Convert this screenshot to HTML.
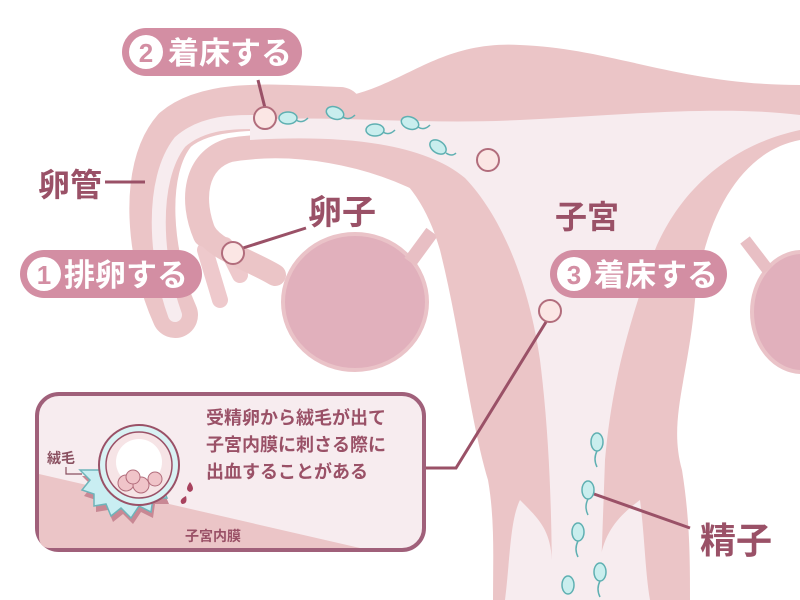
<!DOCTYPE html>
<html><head><meta charset="utf-8"><style>
html,body{margin:0;padding:0;background:#fff;}
svg{display:block;}
text{font-family:"Liberation Sans","Noto Sans CJK JP",sans-serif;font-weight:bold;}
</style></head><body>
<svg width="800" height="600" viewBox="0 0 800 600" xmlns="http://www.w3.org/2000/svg">
<!-- ovaries -->
<ellipse cx="355" cy="302" rx="72" ry="68" fill="#e1b0bc" stroke="#eac3c8" stroke-width="4"/>
<ellipse cx="802" cy="312" rx="50" ry="60" fill="#e1b0bc" stroke="#eac3c8" stroke-width="4"/>
<path d="M410 262 L432 232" stroke="#e8bfc4" stroke-width="14"/>
<path d="M768 270 L745 240" stroke="#e8bfc4" stroke-width="12"/>
<!-- fimbriae -->
<g stroke="#eec9cc" stroke-width="16" stroke-linecap="round" fill="none">
<path d="M178 320 L168 270"/><path d="M220 300 L205 250"/><path d="M240 275 L225 245"/>
</g>
<!-- left tube -->
<path d="M175 315 C150 260 140 170 175 130 C210 100 280 108 340 110" stroke="#ebc5c7" stroke-width="46" fill="none" stroke-linecap="round"/>
<path d="M205 235 C190 200 195 160 230 150 C290 140 370 150 440 190" stroke="#ebc5c7" stroke-width="24" fill="none" stroke-linecap="round"/>
<path d="M205 232 C215 250 250 260 275 275" stroke="#ebc5c7" stroke-width="22" fill="none" stroke-linecap="round"/>
<!-- main body -->
<path d="M320 100 C400 95 430 40 520 45 C610 48 680 85 800 85 L800 140 C745 150 705 210 695 300 C688 380 668 420 682 470 C690 520 690 560 690 600 L493 600 C493 560 495 520 488 480 C470 420 460 330 440 250 C420 180 380 150 320 140 Z" fill="#ebc5c7"/>
<!-- cavity -->
<path d="M250 120 C330 115 420 125 520 120 C620 115 720 105 800 115 L800 130 C730 145 680 190 655 250 C630 320 612 380 605 460 L600 600 L552 600 C552 520 550 440 540 360 C530 290 505 220 465 178 C420 140 330 135 250 140 Z" fill="#f7ecef"/>
<path d="M175 315 C155 260 150 180 180 142 C205 120 240 122 262 122" stroke="#f7ecef" stroke-width="14" fill="none" stroke-linecap="round"/>
<path d="M505 600 C510 560 510 520 520 500 C540 520 550 530 552 560 L600 560 C605 530 620 515 640 500 C645 540 645 570 650 600 Z" fill="#f7ecef"/>
<!-- labels pills -->
<rect x="122" y="28" width="180" height="48" rx="24" fill="#d38ea3"/>
<circle cx="146" cy="52" r="17" fill="#fff"/><text x="146" y="62" font-size="26" fill="#d38ea3" text-anchor="middle">2</text>
<text x="168" y="64" font-size="31" fill="#fff">着床する</text>
<rect x="20" y="250" width="182" height="48" rx="24" fill="#d38ea3"/>
<circle cx="44" cy="274" r="17" fill="#fff"/><text x="44" y="284" font-size="26" fill="#d38ea3" text-anchor="middle">1</text>
<text x="64" y="286" font-size="31" fill="#fff">排卵する</text>
<rect x="550" y="250" width="177" height="48" rx="24" fill="#d38ea3"/>
<circle cx="574" cy="274" r="17" fill="#fff"/><text x="574" y="284" font-size="26" fill="#d38ea3" text-anchor="middle">3</text>
<text x="594" y="286" font-size="31" fill="#fff">着床する</text>
<g fill="#9a5167">
<text x="38" y="196" font-size="32">卵管</text>
<text x="308" y="224" font-size="34">卵子</text>
<text x="555" y="228" font-size="32">子宮</text>
<text x="700" y="553" font-size="36">精子</text>
</g>
<g stroke="#9a5167" stroke-width="3" fill="none">
<path d="M105 182 L145 182"/>
<path d="M258 80 L265 108"/>
<path d="M243 248 L306 228"/>
<path d="M594 494 L690 528"/>
<path d="M546 322 L456 468 L425 468"/>
</g>
<!-- sperm -->
<g fill="#c9eeee" stroke="#5fb0b2" stroke-width="1.5">
<g><ellipse cx="288" cy="118" rx="9" ry="6"/><path d="M296 120 q6 4 12 -2" fill="none"/></g>
<g><ellipse cx="335" cy="113" rx="9" ry="6" transform="rotate(20 335 113)"/><path d="M343 117 q6 4 12 -2" fill="none"/></g>
<g><ellipse cx="375" cy="130" rx="9" ry="6"/><path d="M383 132 q6 4 12 -2" fill="none"/></g>
<g><ellipse cx="410" cy="123" rx="9" ry="6" transform="rotate(20 410 123)"/><path d="M418 127 q6 4 12 -2" fill="none"/></g>
<g><ellipse cx="438" cy="147" rx="9" ry="6" transform="rotate(35 438 147)"/><path d="M446 153 q6 4 10 0" fill="none"/></g>
<g><ellipse cx="597" cy="442" rx="6" ry="9"/><path d="M597 451 q-4 8 0 16" fill="none"/></g>
<g><ellipse cx="588" cy="490" rx="6" ry="9"/><path d="M588 499 q-4 8 0 16" fill="none"/></g>
<g><ellipse cx="578" cy="532" rx="6" ry="9"/><path d="M578 541 q-4 8 0 16" fill="none"/></g>
<g><ellipse cx="600" cy="572" rx="6" ry="9"/><path d="M600 581 q-4 8 0 16" fill="none"/></g>
<g><ellipse cx="568" cy="585" rx="6" ry="9"/></g>
</g>
<!-- eggs -->
<g fill="#fbe6e4" stroke="#b26d7c" stroke-width="2">
<circle cx="265" cy="118" r="11"/><circle cx="488" cy="160" r="11"/>
<circle cx="233" cy="253" r="11"/><circle cx="550" cy="311" r="11"/>
</g>
<!-- inset box -->
<rect x="37" y="394" width="387" height="156" rx="22" fill="#f7ecef" stroke="#a0607a" stroke-width="4"/>
<path d="M39 474 L360 548 L50 548 Q39 548 39 536 Z" fill="#ebc5c7"/>
<path d="M80 470 l10 10 -8 10 12 4 0 12 12 -2 5 12 10 -8 10 10 8 -12 12 6 2 -14 14 0 -6 -14 10 -8 -16 -6z" fill="#c88894" transform="translate(2,6)"/>
<path d="M80 470 l10 10 -8 10 12 4 0 12 12 -2 5 12 10 -8 10 10 8 -12 12 6 2 -14 14 0 -6 -14 10 -8 -16 -6z" fill="#c9eef2" stroke="#6eb4ba" stroke-width="1.5"/>
<circle cx="139" cy="465" r="40" fill="#d9f2f4" stroke="#9a5167" stroke-width="2"/>
<circle cx="139" cy="465" r="33" fill="#f6e4e6" stroke="#9a5167" stroke-width="1.5"/>
<circle cx="139" cy="462" r="23" fill="#fff"/>
<g fill="#f0c4c9" stroke="#b26d7c" stroke-width="1"><circle cx="126" cy="483" r="8"/><circle cx="141" cy="485" r="8"/><circle cx="155" cy="479" r="7"/><circle cx="133" cy="477" r="7"/></g>
<path d="M190 482 q-6 8 0 10 q6 -2 0 -10z M186 496 q-8 4 -4 8 q6 0 4 -8z" fill="#a8425e"/>
<g fill="#9a5167">
<text x="206" y="424" font-size="18">受精卵から絨毛が出て</text>
<text x="206" y="451" font-size="18">子宮内膜に刺さる際に</text>
<text x="206" y="478" font-size="18">出血することがある</text>
<text x="47" y="463" font-size="14" fill="#8a5060">絨毛</text>
<text x="185" y="541" font-size="14">子宮内膜</text>
</g>
<path d="M66 467 L66 474 L82 474" stroke="#8a5060" stroke-width="1.2" fill="none"/>
</svg>
</body></html>
